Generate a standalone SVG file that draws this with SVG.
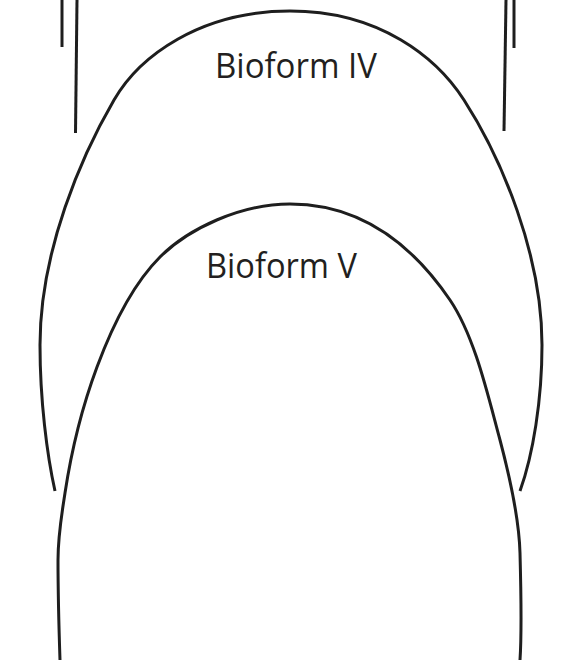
<svg xmlns="http://www.w3.org/2000/svg" width="561" height="660" viewBox="0 0 561 660">
<style>
.ln{fill:none;stroke:#1e1e1e;stroke-width:3;stroke-linecap:butt;stroke-linejoin:round}
.lbl{font-family:"Open Sans","Noto Sans","Liberation Sans",sans-serif;font-size:35px;fill:#231f20}
</style>
<rect width="561" height="660" fill="#ffffff"/>
<g id="guides">
<path class="ln" d="M62 0 L62 47"/>
<path class="ln" d="M77 0 L75.5 133"/>
<path class="ln" d="M506 0 L504 131"/>
<path class="ln" d="M514 0 L514 48"/>
</g>
<g id="bioform-iv">
<path class="ln" d="M55 491 C47 455 40 400 40 345 C40 250 82 155 114 100 C139 56.5 200 11 290 11 C380 11 437 58 464 100 C502 159 542 255 542 345 C542 400 533 455 520 491"/>
<text class="lbl" x="215" y="78" textLength="162" lengthAdjust="spacingAndGlyphs">Bioform IV</text>
</g>
<g id="bioform-v">
<path class="ln" d="M60 660 C59 630 58 600 58 560 C58 535 61.25 517.75 65 493 C71 453.4 81.25 409.3 97 367 C111 329.4 131.7 285.3 160 257 C188 229 240 204 290 204 C365 204 416 250 450 300 C475 337 488 396 500 440 C509 474 519 515 520 553 C521 590 522 630 520 660"/>
<text class="lbl" x="206" y="278" textLength="151" lengthAdjust="spacingAndGlyphs">Bioform V</text>
</g>
</svg>
